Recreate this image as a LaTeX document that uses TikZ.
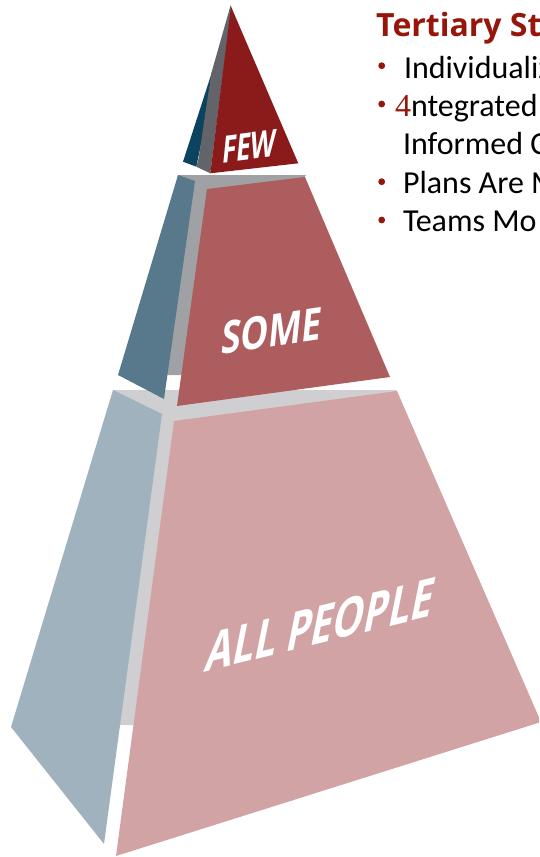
\documentclass[tikz,border=0pt]{standalone}
\usepackage{graphicx}
\usepackage{fontspec}
\setmainfont{Carlito}
\newfontfamily\labelfont{Open Sans}
\newfontfamily\digitfont{Liberation Serif}
\definecolor{topblue}{RGB}{12,68,96}
\definecolor{topgray}{RGB}{99,100,106}
\definecolor{topred}{RGB}{139,26,27}
\definecolor{midblue}{RGB}{88,120,140}
\definecolor{midgray}{RGB}{160,161,164}
\definecolor{midpink}{RGB}{173,93,94}
\definecolor{botblue}{RGB}{160,178,190}
\definecolor{botgray}{RGB}{207,207,209}
\definecolor{botpink}{RGB}{209,163,164}
\definecolor{titlered}{RGB}{150,22,12}
\begin{document}
\begin{tikzpicture}[x=1pt,y=-1pt,
  lbl/.style={inner sep=0pt, outer sep=0pt, anchor=south west, text=white, font=\labelfont\bfseries},
  bodytext/.style={anchor=base west, inner sep=0pt, outer sep=0pt, font=\fontsize{32}{38}\selectfont},
  dot/.style={circle, fill=titlered, draw=none, inner sep=0pt, minimum size=6.8pt}]
\useasboundingbox (0,0) rectangle (539,857);
\clip (0,0) rectangle (539,857);
% bottom tier
\fill[botgray] (113,390) -- (397,390) -- (133.5,725) -- (120,725) -- cycle;
\fill[botblue] (113,390) -- (162,414) -- (104,844) -- (11,727) -- cycle;
\fill[botpink] (174,421) -- (397,391) -- (541,722) -- (116,856) -- cycle;
% middle tier
\fill[midgray] (178,175) -- (306,175) -- (181,375) -- (167,375) -- cycle;
\fill[midblue] (178,175) -- (195,181) -- (164,399) -- (118,375) -- cycle;
\fill[midpink] (207,189) -- (305,177) -- (390,377) -- (177,406) -- cycle;
% top tier
\fill[topblue] (212,72) -- (183,161.7) -- (196.3,166.7) -- (202,140) -- cycle;
\fill[topgray] (230.7,5) -- (211.3,73.3) -- (198.7,158) -- (196.3,166.7) -- (210.3,173.3) -- (231.3,8) -- cycle;
\fill[topred] (231,6.5) -- (210.3,173.3) -- (298.3,163.3) -- cycle;
% labels
\begin{scope}[shift={(221,163)}]
\node[lbl, cm={1,0.126,0.1,1,(0,0)}] (few) at (0,0) {\resizebox{54pt}{27pt}{FEW}};
\end{scope}
\begin{scope}[shift={(220,355)}]
\node[lbl, cm={1,0.145,0.1,1,(0,0)}] (some) at (0,0) {\resizebox{100pt}{33pt}{SOME}};
\end{scope}
\begin{scope}[shift={(203,673)}]
\node[lbl, cm={1,0.247,0.2,1,(0,0)}] (allpeople) at (0,0) {\resizebox{227pt}{40pt}{ALL PEOPLE}};
\end{scope}
% right text
\node[anchor=base west, inner sep=0pt, text=titlered, font=\labelfont\fontsize{32}{40}\selectfont\bfseries] (title) at (376,36) {Tertiary St};
\node[dot] (b1) at (381.7,65.7) {};
\node[dot] (b2) at (381.7,104) {};
\node[dot] (b3) at (381.7,181.7) {};
\node[dot] (b4) at (381.7,220) {};
\node[bodytext] (l1) at (404,78) {Individualiz};
\node[bodytext] (l2) at (395,116.7) {{\digitfont\fontsize{32}{38}\selectfont\color{titlered}4}ntegrated};
\node[bodytext] (l3) at (403,154) {Informed C};
\node[bodytext] (l4) at (403,193.3) {Plans Are M};
\node[bodytext] (l5) at (403,231) {Teams Mo};
\end{tikzpicture}
\end{document}
